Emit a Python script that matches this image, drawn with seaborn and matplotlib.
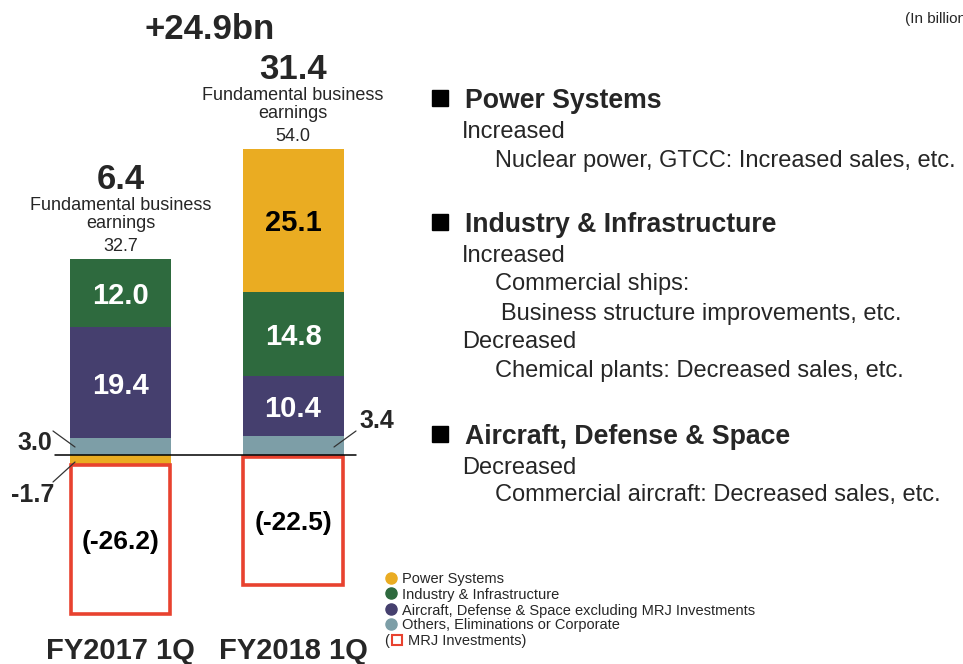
import matplotlib
matplotlib.use("Agg")
import matplotlib.pyplot as plt
import seaborn as sns
import numpy as np
from matplotlib.lines import Line2D

# ---- data ----
categories = ["FY2017 1Q", "FY2018 1Q"]
power = [-1.7, 25.1]
industry = [12.0, 14.8]
aircraft = [19.4, 10.4]
others = [3.0, 3.4]
mrj = [-26.2, -22.5]
fundamental = [32.7, 54.0]
profit = [6.4, 31.4]
change_label = "+24.9bn"
legend_labels = ["Power Systems", "Industry & Infrastructure",
                 "Aircraft, Defense & Space excluding MRJ Investments",
                 "Others, Eliminations or Corporate", "MRJ Investments"]

C_POWER = "#EAAC22"
C_IND = "#2E6A3E"
C_AIR = "#453F6E"
C_OTH = "#7D9EA7"
C_MRJ = "#E8422F"

sns.set_theme(style="white")
plt.rcParams['font.family'] = ['Liberation Sans', 'DejaVu Sans']

W, H = 963, 664
fig = plt.figure(figsize=(W / 100, H / 100), dpi=100)
ax = fig.add_axes([0, 0, 1, 1])

ZERO_PX = 455.0
SCALE = 5.7        # pixels per billion yen
C0 = 120.5         # pixel centre of first bar
STEP = 172.5       # pixel distance between bars
BAR_W = 101.0 / STEP

# stacked layers from bottom up
layers = [(others, C_OTH), (aircraft, C_AIR), (industry, C_IND), (power, C_POWER)]
pos_base = np.zeros(len(categories))
neg_base = np.zeros(len(categories))
seg_info = []
for vals, col in layers:
    vals = np.asarray(vals, dtype=float)
    bottoms = np.where(vals >= 0, pos_base, neg_base)
    sns.barplot(x=categories, y=vals, bottom=bottoms, color=col, saturation=1,
                width=BAR_W, errorbar=None, linewidth=0, ax=ax)
    seg_info.append((vals, bottoms.copy(), col))
    pos_base = pos_base + np.where(vals >= 0, vals, 0)
    neg_base = neg_base + np.where(vals < 0, vals, 0)

# MRJ investments: outlined red box below the negative stack
mrj_v = np.asarray(mrj, dtype=float)
mrj_bottom = neg_base.copy()
mrj_bottom[mrj_bottom == 0] = -0.3
sns.barplot(x=categories, y=mrj_v, bottom=mrj_bottom, color="white", saturation=1,
            width=BAR_W * 0.985, errorbar=None, edgecolor=C_MRJ, linewidth=2.6, ax=ax)

ax.set_ylim(-(H - ZERO_PX) / SCALE, ZERO_PX / SCALE)
xmin = -C0 / STEP
ax.set_xlim(xmin, xmin + W / STEP)
ax.set_axis_off()

# zero line
ax.axhline(0, xmin=55 / W, xmax=356 / W, color="black", lw=1.1)

# segment labels inside bars
for vals, bottoms, col in seg_info:
    for i, v in enumerate(vals):
        if abs(v) < 5:
            continue
        tc = "black" if col == C_POWER else "white"
        ax.text(i, bottoms[i] + v / 2, f"{v:.1f}", ha="center", va="center_baseline",
                fontsize=21, fontweight="bold", color=tc)

for i, v in enumerate(mrj_v):
    ax.text(i, mrj_bottom[i] + v / 2, f"({v:.1f})", ha="center", va="center_baseline",
            fontsize=19, fontweight="bold", color="black")

def fpx(x, y):
    return x / W, 1 - y / H

def ftext(x, y, s, **kw):
    fig.text(*fpx(x, y), s, **kw)

def fline(x1, y1, x2, y2):
    a, b = fpx(x1, y1)
    c, d = fpx(x2, y2)
    fig.add_artist(Line2D([a, c], [b, d], color="#333333", lw=0.9))

def fmarker(x, y, **kw):
    a, b = fpx(x, y)
    fig.add_artist(Line2D([a], [b], linestyle="none", **kw))

# small outside labels with leader lines
ftext(35, 441, f"{others[0]:.1f}", ha="center", va="center_baseline", fontsize=18, fontweight="bold")
fline(53, 431, 75, 447)
ftext(33, 492, f"{power[0]:.1f}", ha="center", va="center_baseline", fontsize=18, fontweight="bold")
fline(53, 482, 75, 462)
ftext(377, 419, f"{others[1]:.1f}", ha="center", va="center_baseline", fontsize=18, fontweight="bold")
fline(356, 431, 334, 447)

# totals above bars
for i in range(len(categories)):
    top = pos_base[i]
    ax.annotate(f"{fundamental[i]:.1f}", (i, top), xytext=(0, 10.5), textcoords="offset points",
                ha="center", va="center_baseline", fontsize=13)
    ax.annotate("earnings", (i, top), xytext=(0, 27), textcoords="offset points",
                ha="center", va="center_baseline", fontsize=13)
    ax.annotate("Fundamental business", (i, top), xytext=(0, 40), textcoords="offset points",
                ha="center", va="center_baseline", fontsize=13)
    ax.annotate(f"{profit[i]:.1f}", (i, top), xytext=(0, 59.5), textcoords="offset points",
                ha="center", va="center_baseline", fontsize=25, fontweight="bold")

ftext(210, 26, change_label, ha="center", va="center_baseline", fontsize=25, fontweight="bold")
ftext(905, 18, "(In billions of yen)", ha="left", va="center_baseline", fontsize=11)

# category labels
for i, c in enumerate(categories):
    ax.text(i, -(648 - ZERO_PX) / SCALE, c, ha="center", va="center_baseline",
            fontsize=21, fontweight="bold")

# right-hand commentary
for y in (97.5, 221.5, 433.5):
    fmarker(440, y, marker="s", markersize=11.5, markerfacecolor="black",
            markeredgecolor="black")
right = [
    (465, 98, "Power Systems", 19.2, "bold"),
    (462, 129, "Increased", 17, "normal"),
    (495, 158, "Nuclear power, GTCC: Increased sales, etc.", 17, "normal"),
    (465, 222, "Industry & Infrastructure", 19.2, "bold"),
    (462, 253, "Increased", 17, "normal"),
    (495, 282, "Commercial ships:", 17, "normal"),
    (501, 311, "Business structure improvements, etc.", 17, "normal"),
    (462, 340, "Decreased", 17, "normal"),
    (495, 368, "Chemical plants: Decreased sales, etc.", 17, "normal"),
    (465, 434, "Aircraft, Defense & Space", 19.2, "bold"),
    (462, 465, "Decreased", 17, "normal"),
    (495, 493, "Commercial aircraft: Decreased sales, etc.", 17, "normal"),
]
for x, y, s, fs, fw in right:
    ftext(x, y, s, ha="left", va="center_baseline", fontsize=fs, fontweight=fw)

# legend (manual)
leg_rows = [578, 593, 609, 624]
leg_cols = [C_POWER, C_IND, C_AIR, C_OTH]
for y, col, lab in zip(leg_rows, leg_cols, legend_labels[:4]):
    fmarker(391, y, marker="o", markersize=8, markerfacecolor=col, markeredgecolor=col)
    ftext(402, y, lab, ha="left", va="center_baseline", fontsize=10.5)
ftext(384, 640, "(", ha="left", va="center_baseline", fontsize=10.5)
fmarker(397, 640, marker="s", markersize=7.5, markerfacecolor="white",
        markeredgecolor=C_MRJ, markeredgewidth=1.5)
ftext(408, 640, legend_labels[4] + ")", ha="left", va="center_baseline", fontsize=10.5)

fig.savefig("out.png", dpi=100)
